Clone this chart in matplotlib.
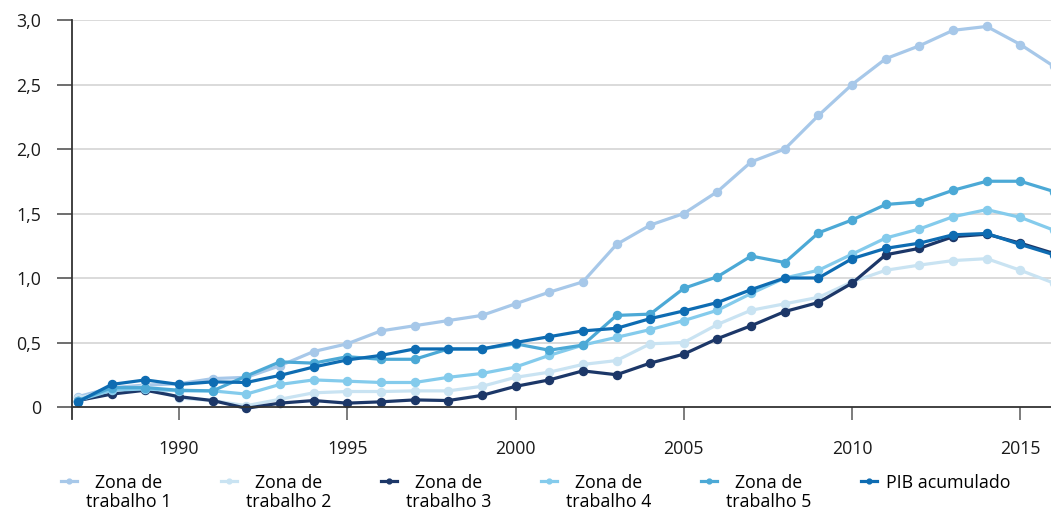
import numpy as np
import matplotlib
matplotlib.use("Agg")
import matplotlib.pyplot as plt

# ── data ──
years = list(range(1987, 2017))
zona1 = [0.08, 0.15, 0.17, 0.18, 0.22, 0.23, 0.32, 0.43, 0.49, 0.59,
         0.63, 0.67, 0.71, 0.80, 0.89, 0.97, 1.26, 1.41, 1.50, 1.67,
         1.90, 2.00, 2.26, 2.50, 2.70, 2.80, 2.92, 2.95, 2.81, 2.64]
zona2 = [0.07, 0.13, 0.16, 0.07, 0.05, 0.01, 0.06, 0.11, 0.12, 0.12,
         0.125, 0.125, 0.16, 0.23, 0.27, 0.33, 0.36, 0.49, 0.50, 0.64,
         0.75, 0.80, 0.85, 0.97, 1.06, 1.10, 1.135, 1.15, 1.06, 0.96]
zona3 = [0.05, 0.10, 0.13, 0.08, 0.05, -0.01, 0.03, 0.05, 0.03, 0.04,
         0.055, 0.05, 0.09, 0.16, 0.21, 0.28, 0.25, 0.34, 0.41, 0.53,
         0.63, 0.74, 0.81, 0.96, 1.18, 1.23, 1.32, 1.34, 1.27, 1.19]
zona4 = [0.05, 0.13, 0.14, 0.125, 0.125, 0.10, 0.175, 0.21, 0.20, 0.19,
         0.19, 0.23, 0.26, 0.31, 0.40, 0.48, 0.54, 0.60, 0.67, 0.75,
         0.88, 1.00, 1.06, 1.185, 1.31, 1.38, 1.475, 1.53, 1.47, 1.37]
zona5 = [0.05, 0.15, 0.15, 0.13, 0.125, 0.24, 0.35, 0.34, 0.39, 0.37,
         0.37, 0.45, 0.45, 0.49, 0.44, 0.48, 0.71, 0.72, 0.92, 1.01,
         1.17, 1.12, 1.35, 1.45, 1.57, 1.59, 1.68, 1.75, 1.75, 1.67]
pib = [0.04, 0.175, 0.21, 0.175, 0.195, 0.19, 0.245, 0.31, 0.365, 0.40,
       0.45, 0.45, 0.45, 0.50, 0.545, 0.59, 0.61, 0.685, 0.745, 0.81,
       0.91, 1.00, 1.00, 1.15, 1.23, 1.27, 1.335, 1.345, 1.26, 1.18]

series = [zona1, zona2, zona3, zona4, zona5, pib]
labels = ["Zona de\ntrabalho 1", "Zona de\ntrabalho 2", "Zona de\ntrabalho 3",
          "Zona de\ntrabalho 4", "Zona de\ntrabalho 5", "PIB acumulado"]
colors = ["#a7c8e9", "#c9e3f2", "#1c3768", "#84cbec", "#4ca9d6", "#0e6cb2"]

yticks = [0, 0.5, 1.0, 1.5, 2.0, 2.5, 3.0]
ytick_labels = ["0", "0,5", "1,0", "1,5", "2,0", "2,5", "3,0"]
xticks = [1990, 1995, 2000, 2005, 2010, 2015]

plt.rcParams["font.family"] = ["Open Sans", "DejaVu Sans"]
plt.rcParams["font.size"] = 12.8

fig = plt.figure(figsize=(10.51, 5.11), dpi=100, facecolor="white")
ax = fig.add_axes([72 / 1051, 1 - 407 / 511, 1 - 72 / 1051, 387 / 511])

for vals, lab, col in zip(series, labels, colors):
    ax.plot(years, vals, "-o", color=col, lw=2.3, ms=5.8, label=lab,
            clip_on=False)

ax.set_xlim(1986.82, 2015.91)
ax.set_ylim(0, 3.0)
ax.set_yticks(yticks)
ax.set_yticklabels(ytick_labels)
ax.set_xticks(xticks)
for y in yticks[1:]:
    ax.axhline(y, color="#d4d4d4", lw=1.2, zorder=0)

for s in ("top", "right"):
    ax.spines[s].set_visible(False)
for s in ("left", "bottom"):
    ax.spines[s].set_color("#333333")
    ax.spines[s].set_linewidth(1.3)
ax.tick_params(axis="y", length=11, width=1.2, color="#555555", pad=11,
               labelcolor="#1a1a1a")
ax.tick_params(axis="x", length=9, width=1.2, color="#666666", pad=15,
               labelcolor="#1a1a1a")
# left spine runs a little below the x axis, like a tick
ax.plot([0, 0], [0, -0.031], transform=ax.transAxes, clip_on=False,
        color="#333333", lw=1.3)

leg = fig.legend(loc="upper center", bbox_to_anchor=(0.51, 1 - 462 / 511),
                 ncol=6, frameon=False, handlelength=0.9, handletextpad=0.5,
                 columnspacing=2.8, markerscale=0.6, fontsize=12.8,
                 borderpad=0.2, labelspacing=0.2)
for t in leg.get_texts():
    t.set_multialignment("center")
    t.set_linespacing(1.05)
leg._legend_handle_box.align = "top"
for col in leg._legend_handle_box.get_children():
    for item in col.get_children():
        item.align = "top"

fig.savefig("out.png", dpi=100, facecolor="white")
